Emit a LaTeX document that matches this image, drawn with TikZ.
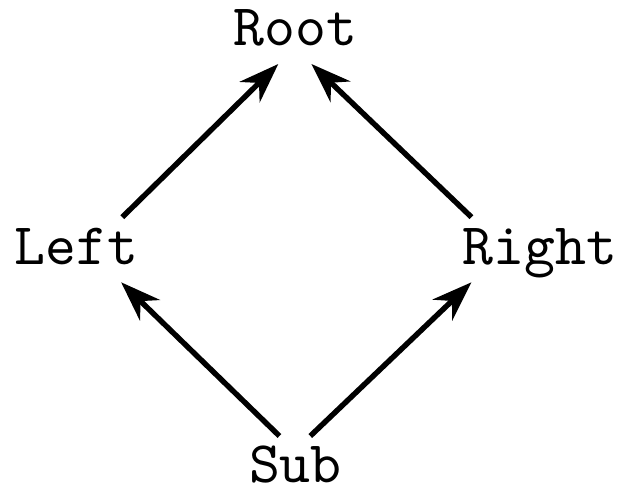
\documentclass[tikz,border=0pt]{standalone}
\usepackage{tikz}
\usetikzlibrary{arrows.meta}
\tikzset{lbl/.style={font=\ttfamily\fontsize{10.3pt}{12pt}\selectfont, anchor=base, text height=6.3pt, text depth=1.3pt, inner ysep=1.7pt},
	edge/.style={-{Stealth[length=7pt, width=5pt]}, line width=0.95pt}}

\begin{document}
\begin{tikzpicture}
		%%%%% START %%%%%
		
		\useasboundingbox (0pt, 0pt) rectangle (108.5pt, -85.6pt);
		
		\node[lbl] (root) at (51.7pt, -8.0pt) {Root};
		\node[lbl] (left) at (13.4pt, -46.2pt) {Left};
		\node[lbl] (right) at (94.5pt, -46.2pt) {Right};
		\node[lbl] (sub) at (51.7pt, -84.5pt) {Sub};
		
		\draw[edge] ([xshift=8pt]left.north) -- ([xshift=-3pt]root.south);
		\draw[edge] ([xshift=-12pt]right.north) -- ([xshift=2.8pt]root.south);
		\draw[edge] ([xshift=-2.8pt]sub.north) -- ([xshift=7.8pt]left.south);
		\draw[edge] ([xshift=2.6pt]sub.north) -- ([xshift=-12pt]right.south);
		
		%%%%% END %%%%%
	\end{tikzpicture}
\end{document}
